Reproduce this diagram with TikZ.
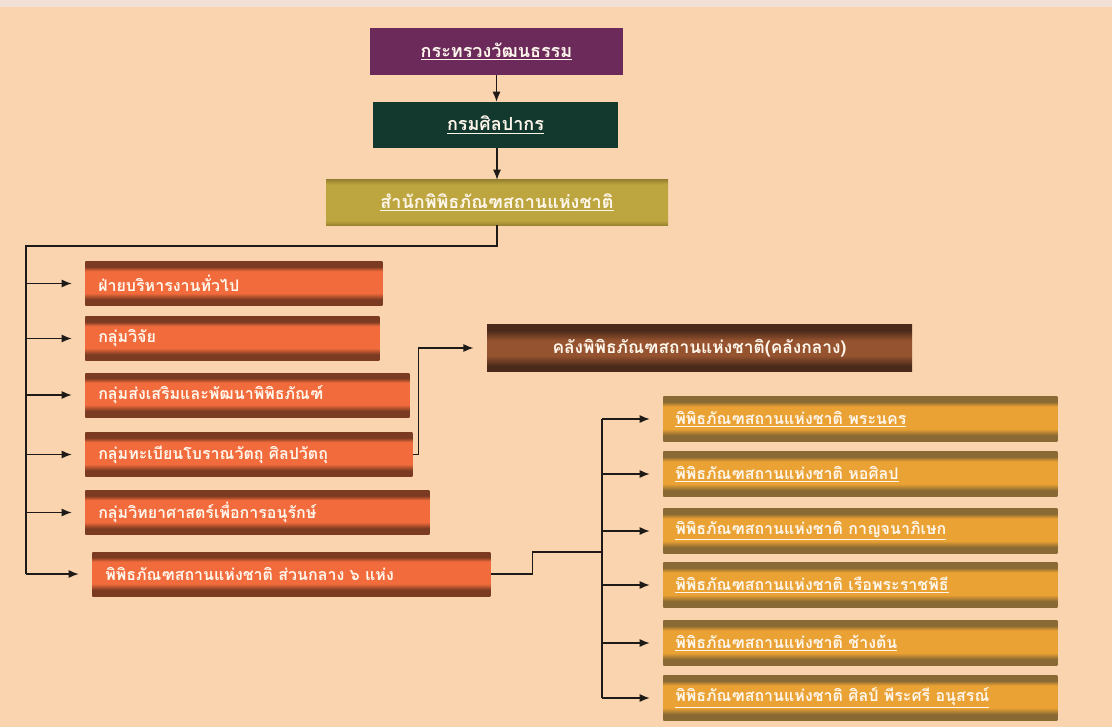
\documentclass[tikz,border=0pt]{standalone}
\usepackage{fontspec}
\newfontfamily\thaifont[Script=Thai]{Loma}
\usetikzlibrary{arrows.meta}
\definecolor{bg}{HTML}{F9D4AE}
\definecolor{topstrip}{HTML}{F1E0D6}
\definecolor{purp}{HTML}{6C2A5B}
\definecolor{dgreen}{HTML}{13392F}
\definecolor{olive}{HTML}{BDA63F}
\definecolor{olivedk}{HTML}{9A8530}
\definecolor{ormid}{HTML}{F26B3C}
\definecolor{ordk}{HTML}{7A3B22}
\definecolor{brmid}{HTML}{96532F}
\definecolor{brdk}{HTML}{4A2A1A}
\definecolor{gdmid}{HTML}{EAA234}
\definecolor{gddk}{HTML}{8A6A34}
\definecolor{txt}{HTML}{FFF6EC}
\definecolor{ln}{HTML}{1E1A18}
\pgfdeclareverticalshading{orsh}{100bp}{color(0bp)=(ordk); color(25bp)=(ordk); color(32bp)=(ordk); color(39bp)=(ormid); color(64bp)=(ormid); color(69bp)=(ordk); color(75bp)=(ordk); color(100bp)=(ordk)}
\pgfdeclareverticalshading{gdsh}{100bp}{color(0bp)=(gddk); color(25bp)=(gddk); color(32bp)=(gddk); color(39bp)=(gdmid); color(64bp)=(gdmid); color(69bp)=(gddk); color(75bp)=(gddk); color(100bp)=(gddk)}
\pgfdeclareverticalshading{brsh}{100bp}{color(0bp)=(brdk); color(25bp)=(brdk); color(31bp)=(brdk); color(42bp)=(brmid); color(58bp)=(brmid); color(69bp)=(brdk); color(75bp)=(brdk); color(100bp)=(brdk)}
\pgfdeclareverticalshading{olsh}{100bp}{color(0bp)=(olivedk); color(25bp)=(olivedk); color(30bp)=(olive); color(70bp)=(olive); color(75bp)=(olivedk); color(100bp)=(olivedk)}
\begin{document}
\begin{tikzpicture}[x=0.75pt,y=-0.75pt,
  every node/.style={font=\thaifont\bfseries\fontsize{12}{14}\selectfont, text=txt, inner sep=0pt},
  topbox/.style={font=\thaifont\bfseries\fontsize{13.5}{15}\selectfont, align=center},
  obox/.style={shading=orsh, anchor=west, minimum height=33pt, inner xsep=9.75pt, align=left},
  gbox/.style={shading=gdsh, anchor=west, minimum height=33.75pt, inner xsep=9pt, align=left, text width=277.5pt},
  line/.style={draw=ln, line width=0.9pt},
  varr/.style={line, -{Latex[length=7.5pt,width=6pt]}},
  harr/.style={line, -{Latex[length=7.5pt,width=6pt]}, shorten >=10pt}]
\useasboundingbox (0,0) rectangle (1112,727);
\fill[bg] (0,0) rectangle (1112,727);
\fill[topstrip] (0,0) rectangle (1112,7);

% top hierarchy
\node[topbox, fill=purp, minimum width=189.75pt, minimum height=35.25pt] (b1) at (496.5,51.5) {\underline{กระทรวงวัฒนธรรม}};
\node[topbox, fill=dgreen, minimum width=183.75pt, minimum height=34.5pt] (b2) at (495.5,125) {\underline{กรมศิลปากร}};
\node[topbox, shading=olsh, minimum width=256.5pt, minimum height=33.75pt] (b3) at (497,202.5) {\underline{สำนักพิพิธภัณฑสถานแห่งชาติ}};

% left column
\node[obox, text width=203.25pt] (o4) at (85,283.5) {ฝ่ายบริหารงานทั่วไป};
\node[obox, text width=201pt] (o5) at (85,338.5) {กลุ่มวิจัย};
\node[obox, text width=223.5pt] (o6) at (85,395) {กลุ่มส่งเสริมและพัฒนาพิพิธภัณฑ์};
\node[obox, text width=225.75pt] (o7) at (85,454.5) {กลุ่มทะเบียนโบราณวัตถุ ศิลปวัตถุ};
\node[obox, text width=238.5pt] (o8) at (85,512.5) {กลุ่มวิทยาศาสตร์เพื่อการอนุรักษ์};
\node[obox, text width=279pt] (o9) at (92,574) {พิพิธภัณฑสถานแห่งชาติ ส่วนกลาง ๖ แห่ง};

% central store
\node[shading=brsh, minimum width=318.75pt, minimum height=35.25pt, font=\thaifont\bfseries\fontsize{13}{15}\selectfont] (k10) at (699.5,348) {คลังพิพิธภัณฑสถานแห่งชาติ(คลังกลาง)};

% right column
\node[gbox] (g11) at (663,419) {\underline{พิพิธภัณฑสถานแห่งชาติ พระนคร}};
\node[gbox] (g12) at (663,474) {\underline{พิพิธภัณฑสถานแห่งชาติ หอศิลป}};
\node[gbox] (g13) at (663,531) {\underline{พิพิธภัณฑสถานแห่งชาติ กาญจนาภิเษก}};
\node[gbox] (g14) at (663,585) {\underline{พิพิธภัณฑสถานแห่งชาติ เรือพระราชพิธี}};
\node[gbox] (g15) at (663,643) {\underline{พิพิธภัณฑสถานแห่งชาติ ช้างต้น}};
\node[gbox] (g16) at (663,698) {\underline{พิพิธภัณฑสถานแห่งชาติ ศิลป์ พีระศรี อนุสรณ์}};

% connectors
\draw[varr] (b1.south) -- (b1.south |- b2.north);
\draw[varr] (b2.south -| b3.north) -- (b3.north);
\coordinate (lbus) at (26,246);
\draw[line] (b3.south) |- (lbus) -- (lbus |- o9.west);
\foreach \n in {o4,o5,o6,o7,o8,o9} \draw[harr] (lbus |- \n.west) -- (\n.west);
\draw[harr] (o7.east) -- ++(6,0) |- (k10.west);
\coordinate (rbus) at (602,552);
\draw[line] (o9.east) -- ++(42,0) |- (rbus);
\draw[line] (rbus |- g11.west) -- (rbus |- g16.west);
\foreach \n in {g11,g12,g13,g14,g15,g16} \draw[harr] (rbus |- \n.west) -- (\n.west);
\end{tikzpicture}
\end{document}
